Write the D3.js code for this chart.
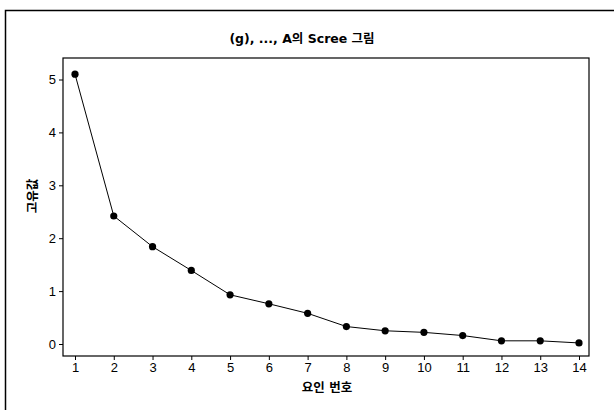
<!DOCTYPE html>
<html>
<head>
<meta charset="utf-8">
<script src="https://cdn.jsdelivr.net/npm/d3@7"></script>
<style>
  body { margin: 0; background: #fff; }
  svg { display: block; font-family: "DejaVu Sans", "Noto Sans CJK KR", sans-serif; }
</style>
</head>
<body>
<div id="chart"></div>
<script>
// factor numbers and eigenvalues
const factors = [1, 2, 3, 4, 5, 6, 7, 8, 9, 10, 11, 12, 13, 14];
const eigenvalues = [5.10, 2.42, 1.84, 1.39, 0.93, 0.76, 0.58, 0.33, 0.25, 0.22, 0.16, 0.06, 0.06, 0.02];
const yTicks = [0, 1, 2, 3, 4, 5];

const titleText = "(g), ..., A의 Scree 그림";
const xLabel = "요인 번호";
const yLabel = "고유값";

const width = 614, height = 410;
const frame = {left: 63, right: 589, top: 58, bottom: 356};

const svg = d3.select("#chart")
    .append("svg")
    .attr("width", width)
    .attr("height", height);

// outer box (left & top edges, the right edge runs off the picture)
svg.append("path")
    .attr("d", `M5.5,${height} V10.5 H${width}`)
    .attr("fill", "none")
    .attr("stroke", "#000")
    .attr("stroke-width", 1.5);

const x = d3.scaleLinear()
    .domain([1, 14])
    .range([75, 579]);

const y = d3.scaleLinear()
    .domain([0, 5])
    .range([344, 79.5]);

// plot frame
svg.append("rect")
    .attr("x", frame.left)
    .attr("y", frame.top)
    .attr("width", frame.right - frame.left)
    .attr("height", frame.bottom - frame.top)
    .attr("fill", "none")
    .attr("stroke", "#000")
    .attr("stroke-width", 1.2);

const xAxis = svg.append("g")
    .attr("transform", `translate(0,${frame.bottom})`)
    .call(d3.axisBottom(x).tickValues(factors).tickFormat(d3.format("d")).tickSize(4).tickPadding(3));

const yAxis = svg.append("g")
    .attr("transform", `translate(${frame.left},0)`)
    .call(d3.axisLeft(y).tickValues(yTicks).tickFormat(d3.format("d")).tickSize(4).tickPadding(3));

[xAxis, yAxis].forEach(a => {
    a.select(".domain").remove();
    a.selectAll("text").attr("font-size", 13).attr("fill", "#000")
        .attr("font-family", "Liberation Sans, Arial, sans-serif");
    a.selectAll("line").attr("stroke", "#000");
});

const line = d3.line()
    .x((d, i) => x(factors[i]))
    .y(d => y(d));

svg.append("path")
    .datum(eigenvalues)
    .attr("d", line)
    .attr("fill", "none")
    .attr("stroke", "#000")
    .attr("stroke-width", 1);

svg.selectAll(".pt")
    .data(eigenvalues)
    .enter()
    .append("circle")
    .attr("class", "pt")
    .attr("cx", (d, i) => x(factors[i]))
    .attr("cy", d => y(d))
    .attr("r", 3.6)
    .attr("fill", "#000");

// title and axis labels
svg.append("text")
    .attr("x", 302)
    .attr("y", 43)
    .attr("text-anchor", "middle")
    .attr("font-size", 12.5)
    .attr("font-weight", "bold")
    .text(titleText);

svg.append("text")
    .attr("x", 327)
    .attr("y", 392)
    .attr("text-anchor", "middle")
    .attr("font-size", 12.5)
    .attr("font-weight", "bold")
    .text(xLabel);

svg.append("text")
    .attr("transform", "translate(37,196) rotate(-90)")
    .attr("text-anchor", "middle")
    .attr("font-size", 12.5)
    .attr("font-weight", "bold")
    .text(yLabel);
</script>
</body>
</html>
